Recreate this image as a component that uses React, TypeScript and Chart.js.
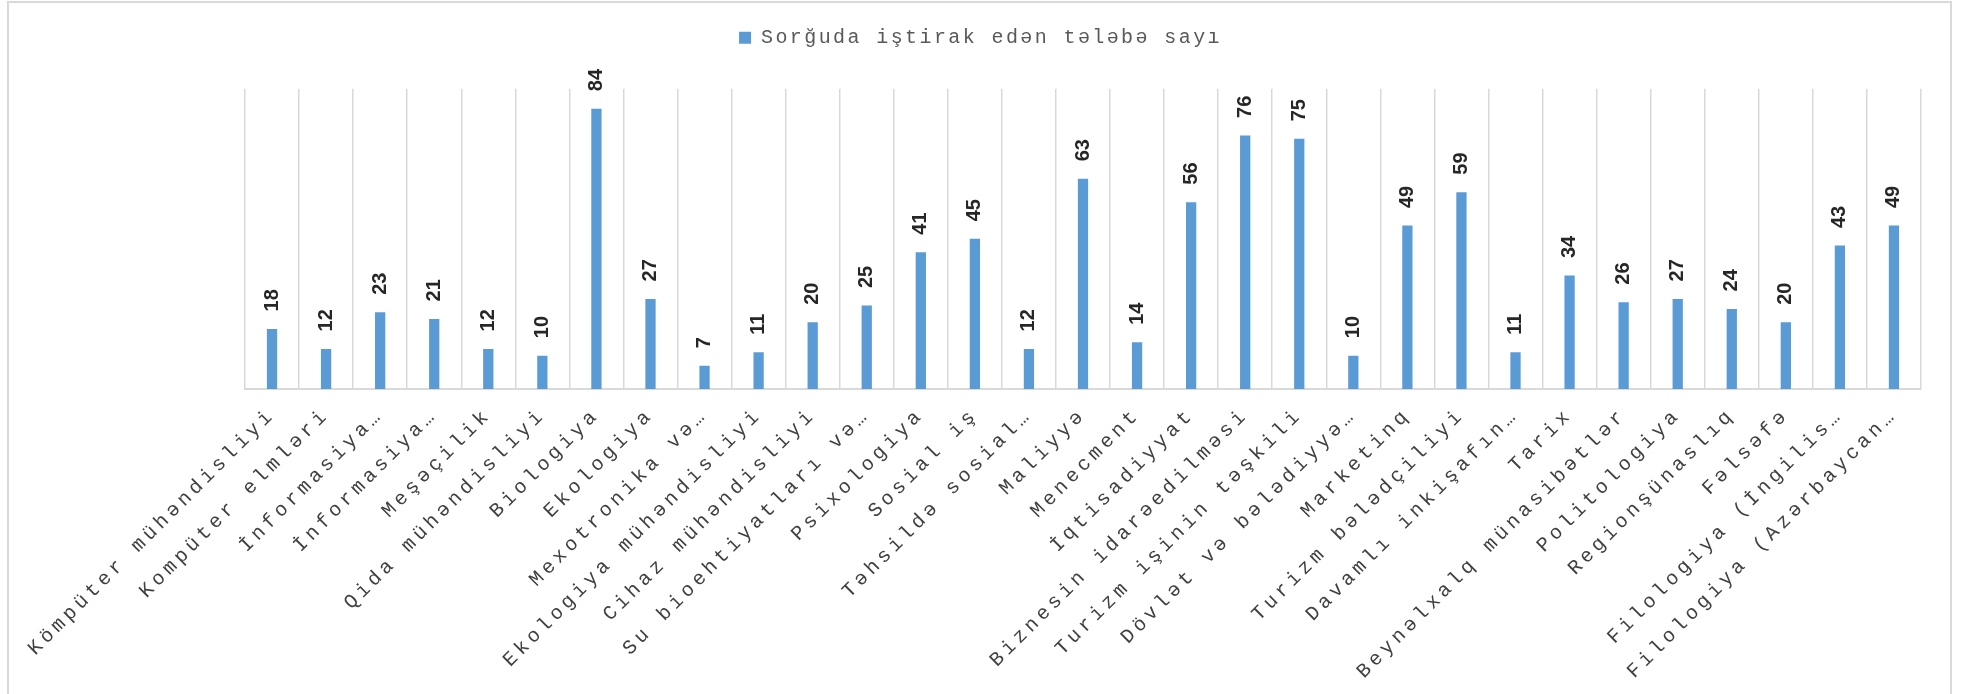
import React, { useEffect, useRef } from 'react';
import { Chart, registerables } from 'chart.js';

Chart.register(...registerables);

const seriesName = 'Sorğuda iştirak edən tələbə sayı';

const categories = [
  'Kömpüter mühəndisliyi',
  'Kompüter elmləri',
  'İnformasiya…',
  'İnformasiya…',
  'Meşəçilik',
  'Qida mühəndisliyi',
  'Biologiya',
  'Ekologiya',
  'Mexotronika və…',
  'Ekologiya mühəndisliyi',
  'Cihaz mühəndisliyi',
  'Su bioehtiyatları və…',
  'Psixologiya',
  'Sosial iş',
  'Təhsildə sosial…',
  'Maliyyə',
  'Menecment',
  'İqtisadiyyat',
  'Biznesin idarəedilməsi',
  'Turizm işinin təşkili',
  'Dövlət və bələdiyyə…',
  'Marketinq',
  'Turizm bələdçiliyi',
  'Davamlı inkişafın…',
  'Tarix',
  'Beynəlxalq münasibətlər',
  'Politologiya',
  'Regionşünaslıq',
  'Fəlsəfə',
  'Filologiya (İngilis…',
  'Filologiya (Azərbaycan…',
];

const values = [
  18, 12, 23, 21, 12, 10, 84, 27, 7, 11, 20, 25, 41, 45, 12, 63, 14, 56, 76, 75,
  10, 49, 59, 11, 34, 26, 27, 24, 20, 43, 49,
];

const yMin = 0;
const yMax = 90;

const MONO = '"Liberation Mono", "DejaVu Sans Mono", monospace';
const SANS = '"Liberation Sans", Arial, sans-serif';

export default function App() {
  const ref = useRef<HTMLCanvasElement>(null);

  useEffect(() => {
    document.body.style.margin = '0';
    const canvas = ref.current;
    if (!canvas) return;

    const spacingPlugin = {
      id: 'spacingPlugin',
      afterInit(chart: any) {
        const legend = chart.legend;
        if (legend && !legend.__patched) {
          const fit = legend.fit;
          legend.fit = function () {
            const c = this.ctx;
            c.save();
            c.letterSpacing = '2.4px';
            fit.call(this);
            c.restore();
            this.height += 31;
          };
          const draw = legend.draw;
          legend.draw = function (...args: any[]) {
            const c = this.ctx;
            c.save();
            c.letterSpacing = '2.4px';
            draw.apply(this, args);
            c.restore();
          };
          legend.__patched = true;
        }
      },
      afterUpdate(chart: any) {
        const s = chart.scales.x;
        if (s && !s.__patched) {
          const orig = s.drawLabels;
          s.drawLabels = function (...args: any[]) {
            const c = this.ctx;
            c.save();
            c.letterSpacing = '4.2px';
            orig.apply(this, args);
            c.restore();
          };
          s.__patched = true;
        }
      },
    };

    const dataLabelPlugin = {
      id: 'dataLabelPlugin',
      afterDatasetsDraw(chart: any) {
        const ctx = chart.ctx;
        const meta = chart.getDatasetMeta(0);
        meta.data.forEach((bar: any, i: number) => {
          ctx.save();
          ctx.translate(bar.x, bar.y - 17.5);
          ctx.rotate(-Math.PI / 2);
          ctx.font = `bold 20px ${SANS}`;
          ctx.fillStyle = '#262626';
          ctx.textAlign = 'left';
          ctx.textBaseline = 'middle';
          ctx.fillText(String(values[i]), 0, 0);
          ctx.restore();
        });
      },
    };

    const chart = new Chart(canvas, {
      type: 'bar',
      data: {
        labels: categories,
        datasets: [
          {
            label: seriesName,
            data: values,
            backgroundColor: '#5b9bd5',
            borderWidth: 0,
            barPercentage: 0.19,
            categoryPercentage: 1,
          },
        ],
      },
      options: {
        responsive: false,
        animation: false,
        layout: { padding: { top: 17.7, left: 0, right: 0, bottom: 0 } },
        plugins: {
          legend: {
            position: 'top',
            align: 'center',
            labels: {
              boxWidth: 12,
              boxHeight: 12,
              padding: 10,
              color: '#595959',
              font: { family: MONO, size: 20 },
            },
          },
          tooltip: { enabled: false },
        },
        scales: {
          x: {
            grid: {
              display: true,
              offset: true,
              color: '#d9d9d9',
              lineWidth: 1.5,
              drawTicks: false,
            },
            border: { display: true, color: '#d9d9d9', width: 2 },
            ticks: {
              autoSkip: false,
              maxRotation: 45,
              minRotation: 45,
              padding: 14,
              color: '#404040',
              font: { family: MONO, size: 20 },
            },
            afterFit(scale: any) {
              scale.paddingLeft = 245;
              scale.paddingRight = 40;
              scale.height = 305;
            },
          },
          y: {
            display: false,
            min: yMin,
            max: yMax,
          },
        },
      },
      plugins: [spacingPlugin, dataLabelPlugin],
    } as any);

    return () => chart.destroy();
  }, []);

  return (
    <div style={{ position: 'relative', width: 1961, height: 694, overflow: 'hidden', background: '#fff' }}>
      <canvas ref={ref} width={1961} height={694} style={{ display: 'block' }} />
      <div
        style={{
          position: 'absolute',
          left: 7,
          top: 1,
          width: 1945,
          height: 720,
          boxSizing: 'border-box',
          border: '2px solid #d9d9d9',
          pointerEvents: 'none',
        }}
      />
    </div>
  );
}
